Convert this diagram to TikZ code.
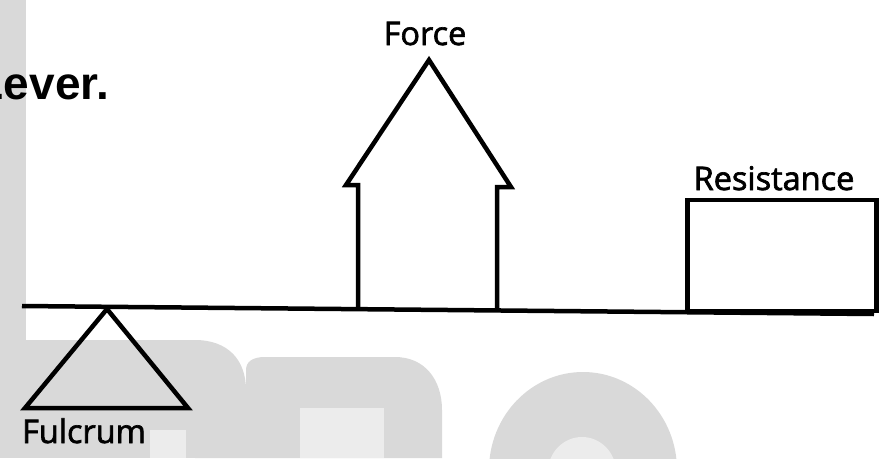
\documentclass[tikz,border=0pt]{standalone}
\usepackage{fontspec}
\setmainfont{Open Sans}[FakeBold=2]
\newfontfamily\headfont{Liberation Sans}
\definecolor{wmgray}{HTML}{D9D9D9}
\definecolor{wmlight}{HTML}{ECECEC}
\begin{document}
\begin{tikzpicture}[x=1pt,y=-1pt,
  lbl/.style={font=\fontsize{32.5}{32.5}\selectfont, inner sep=0pt, anchor=base},
  part/.style={draw=black, line width=4.5pt, line join=miter},
  wm/.style={fill=wmgray, draw=none},
  wml/.style={fill=wmlight, draw=none}]
\useasboundingbox (0,0) rectangle (881,458);
% watermark background
\fill[wm] (0,0) rectangle (26,458);
\fill[wm] (0,340) rectangle (200,458);
\fill[wm] (195,340) .. controls (228,340) and (246,360) .. (246,390) -- (246,458) -- (195,458) -- cycle;
\fill[wm] (246,458) -- (246,370) .. controls (246,362) and (252,357) .. (265,357) -- (395,357)
  .. controls (425,357) and (442,380) .. (442,410) -- (442,458) -- cycle;
\fill[wml] (150,430) rectangle (186,458);
\fill[wml] (300,408) rectangle (384,458);
\fill[wm] (583,470) ellipse [x radius=94, y radius=98];
\fill[wml] (582,472) ellipse [x radius=34, y radius=35];
% title fragment
\node[font=\headfont\bfseries\fontsize{46}{46}\selectfont, inner sep=0pt, anchor=base east] (title) at (109,99) {Lever.};
% lever
\coordinate (levL) at (22,306);
\coordinate (levR) at (874,314);
\draw[part] (levL) -- (levR);
% fulcrum
\coordinate (fulA) at (107,309);
\coordinate (fulB) at (25,408);
\coordinate (fulC) at (188,408);
\draw[part] (fulA) -- (fulB) -- (fulC) -- cycle;
\node[lbl] (fulcrum) at (84,443) {Fulcrum};
% force arrow
\coordinate (fL) at (358,309.5);
\coordinate (fR) at (497,310.5);
\draw[part] (fL) -- (358,185) -- (346,185) -- (429,60) -- (511,187) -- (497,187) -- (fR);
\node[lbl] (force) at (425,45) {Force};
% resistance
\node[part, minimum width=189pt, minimum height=111pt, inner sep=0pt, anchor=south west] (resbox) at (685,313) {};
\node[lbl] (resistance) at (774,190) {Resistance};
\end{tikzpicture}
\end{document}
